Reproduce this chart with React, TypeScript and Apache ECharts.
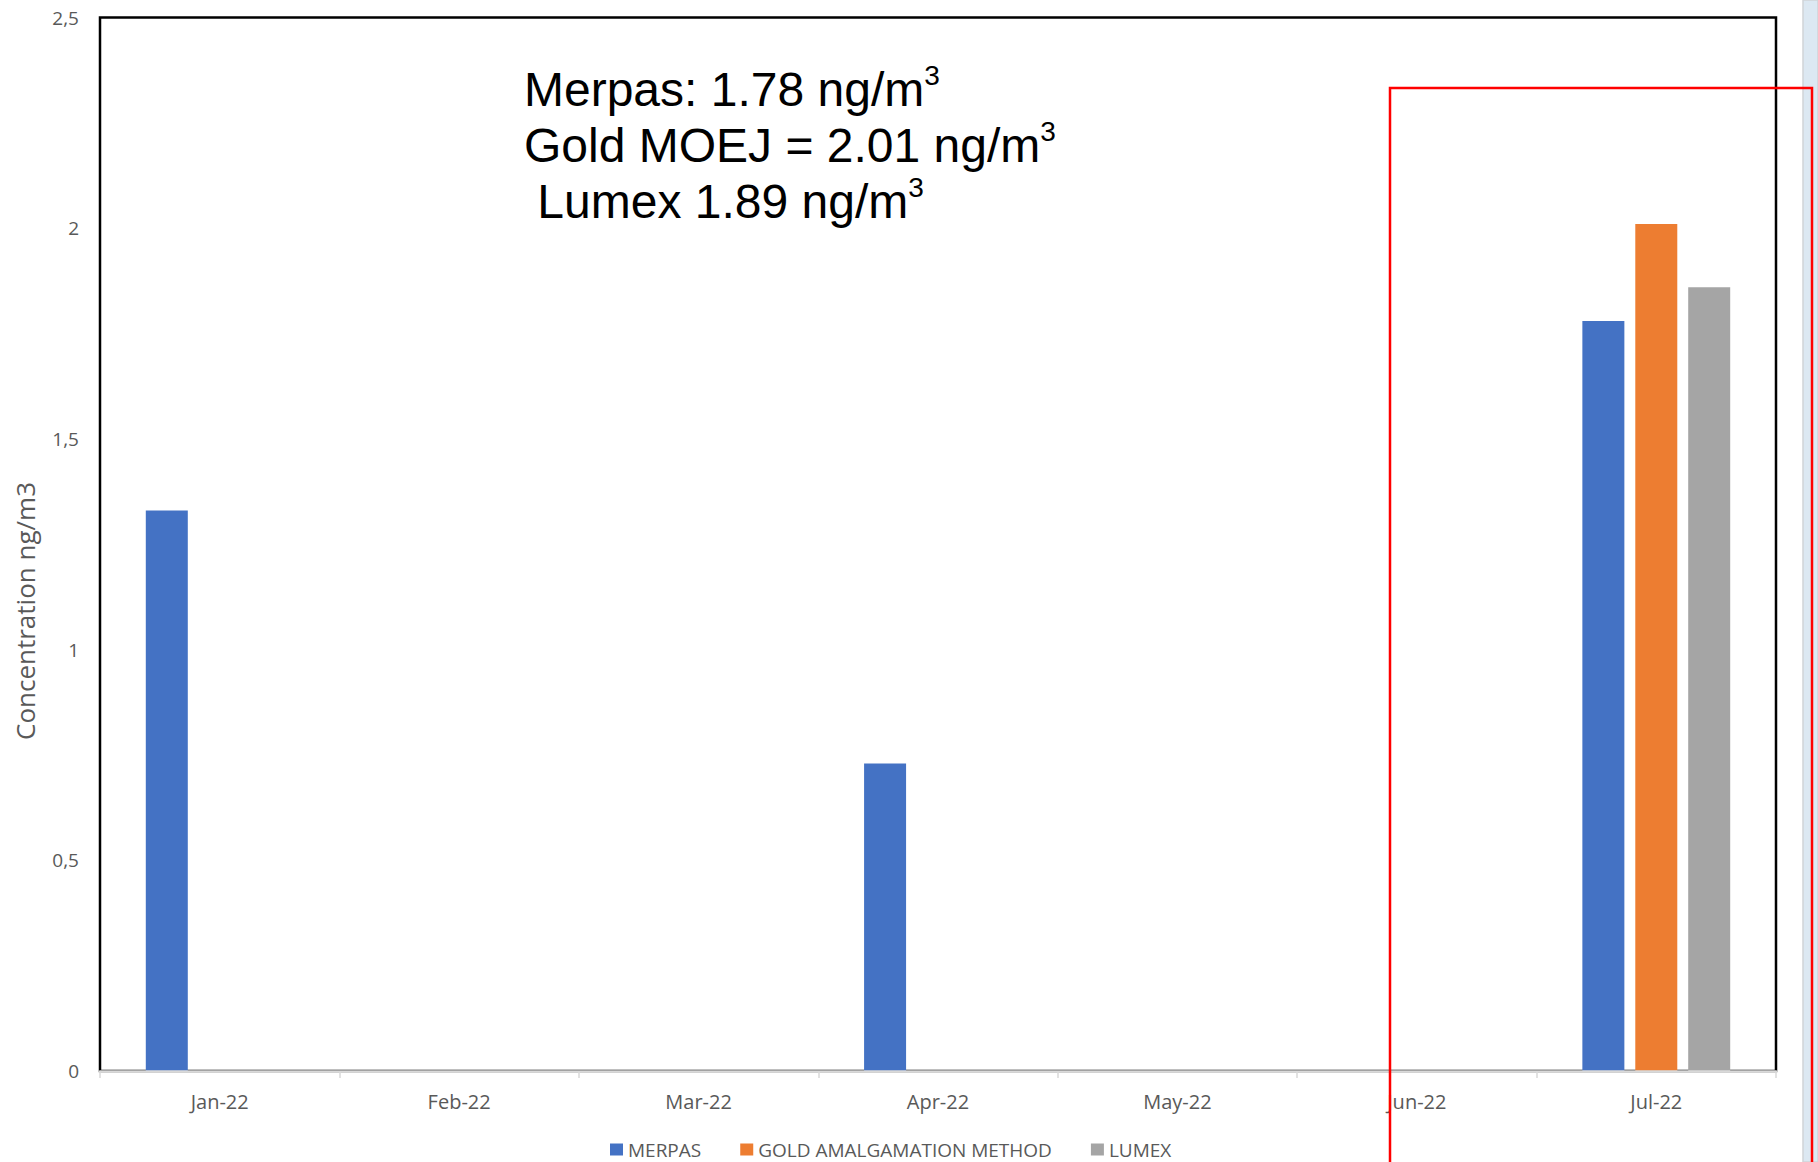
import React, { useEffect, useRef } from "react";
import * as echarts from "echarts";

const categories = ["Jan-22", "Feb-22", "Mar-22", "Apr-22", "May-22", "Jun-22", "Jul-22"];
const merpas = [1.33, null, null, 0.73, null, null, 1.78];
const goldAmalgamation = [null, null, null, null, null, null, 2.01];
const lumex = [null, null, null, null, null, null, 1.86];
const seriesNames = ["MERPAS", "GOLD AMALGAMATION METHOD", "LUMEX"];
const seriesColors = ["#4472C4", "#ED7D31", "#A5A5A5"];
const annotationLines = [
  { text: "Merpas: 1.78 ng/m", sup: "3" },
  { text: "Gold MOEJ = 2.01 ng/m", sup: "3" },
  { text: " Lumex 1.89 ng/m", sup: "3" },
];
const yAxisTitle = "Concentration ng/m3";

const AXIS_FONT = "'Open Sans', 'Noto Sans', sans-serif";
const NOTE_FONT = "'Liberation Sans', Arial, sans-serif";

export default function App() {
  const ref = useRef<HTMLDivElement>(null);

  useEffect(() => {
    if (!ref.current) return;
    const chart = echarts.init(ref.current, undefined, { renderer: "svg" });
    const richText = annotationLines.map((l) => `{a|${l.text}}{s|${l.sup}}`).join("\n");
    const option: any = {
      animation: false,
      backgroundColor: "#ffffff",
      grid: {
        left: 100,
        right: 42,
        top: 17.5,
        bottom: 91,
        show: true,
        borderColor: "#000000",
        borderWidth: 2.5,
        backgroundColor: "transparent",
        containLabel: false,
      },
      legend: {
        left: 605,
        top: 1135,
        itemWidth: 13,
        itemHeight: 12,
        itemGap: 39,
        icon: "rect",
        textStyle: { fontSize: 19, color: "#595959", fontFamily: AXIS_FONT },
        data: seriesNames,
      },
      xAxis: {
        type: "category",
        data: categories,
        z: 5,
        axisLine: { show: true, lineStyle: { color: "#D9D9D9", width: 2.5 } },
        axisTick: { show: true, length: 7, lineStyle: { color: "#D9D9D9", width: 1.5 } },
        axisLabel: { margin: 20, fontSize: 20, color: "#595959", fontFamily: AXIS_FONT },
        splitLine: { show: false },
      },
      yAxis: {
        type: "value",
        min: 0,
        max: 2.5,
        interval: 0.5,
        axisLine: { show: false },
        axisTick: { show: false },
        splitLine: { show: false },
        axisLabel: {
          margin: 21,
          fontSize: 19,
          color: "#595959",
          fontFamily: AXIS_FONT,
          formatter: (v: number) => String(v).replace(".", ","),
        },
      },
      series: [
        { name: seriesNames[0], type: "bar", data: merpas, barWidth: 42, barGap: "26%", itemStyle: { color: seriesColors[0] } },
        { name: seriesNames[1], type: "bar", data: goldAmalgamation, barWidth: 42, barGap: "26%", itemStyle: { color: seriesColors[1] } },
        { name: seriesNames[2], type: "bar", data: lumex, barWidth: 42, barGap: "26%", itemStyle: { color: seriesColors[2] } },
      ],
      graphic: [
        {
          type: "text",
          x: 25,
          y: 611,
          rotation: Math.PI / 2,
          style: {
            text: yAxisTitle,
            fontSize: 26,
            fill: "#595959",
            fontFamily: AXIS_FONT,
            textAlign: "center",
            textVerticalAlign: "middle",
          },
        },
        {
          type: "text",
          x: 524,
          y: 61,
          style: {
            text: richText,
            textAlign: "left",
            textVerticalAlign: "top",
            fill: "#000000",
            rich: {
              a: { fontSize: 48, lineHeight: 56, fontFamily: NOTE_FONT, fill: "#000000" },
              s: { fontSize: 28, lineHeight: 50, verticalAlign: "top", fontFamily: NOTE_FONT, fill: "#000000" },
            },
          },
        },
        {
          type: "rect",
          shape: { x: 1803, y: 0, width: 15, height: 1162 },
          style: { fill: "#DCE8F2", stroke: "#D0D4D8", lineWidth: 1.5 },
          z: 1,
        },
        {
          type: "rect",
          shape: { x: 1390, y: 88, width: 422, height: 1100 },
          style: { fill: "none", stroke: "#FF0000", lineWidth: 2.5 },
          z: 10,
        },
      ],
    };
    chart.setOption(option);
    return () => chart.dispose();
  }, []);

  return (
    <div
      ref={ref}
      style={{ position: "fixed", left: 0, top: 0, width: 1818, height: 1162, background: "#fff" }}
    />
  );
}
